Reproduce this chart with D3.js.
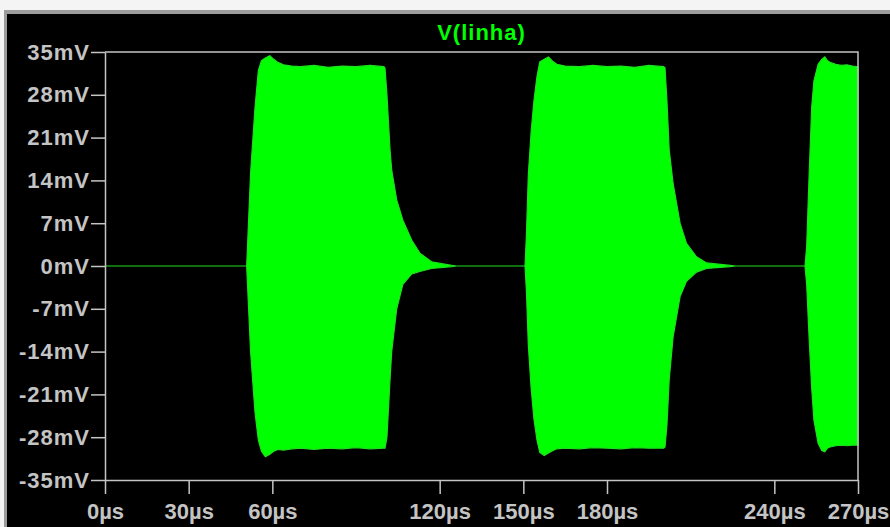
<!DOCTYPE html>
<html>
<head>
<meta charset="utf-8">
<script src="https://cdn.jsdelivr.net/npm/d3@7"></script>
<style>
  html, body { margin: 0; padding: 0; background: #f4f4f4; }
  svg { display: block; }
  .axis text { font-family: "Liberation Sans", Arial, sans-serif; font-weight: bold; font-size: 22px; fill: #c4c4c4; }
  .axis.y text { letter-spacing: 1px; }
  .axis line, .axis path { stroke: #c4c4c4; stroke-width: 1.5px; }
</style>
</head>
<body>
<figure id="plot" style="margin:0"></figure>
<script>
// envelope of V(linha) (time in µs, volts in mV)
const timeUs = [
  0, 50.8, 51.1, 52.2, 53.8, 55.0, 56.1, 57.5, 59.1, 60.5, 62, 64, 67, 70, 75, 80, 85, 90, 95, 100.0,
  100.4, 101.1, 102.2, 102.8, 104.6, 106.8, 110.0, 112.9, 117.1, 124.3, 126,
  150.6, 151.1, 151.8, 152.8, 153.8, 154.9, 155.9, 157.5, 159.0, 160.5, 162, 165, 170, 175, 180, 185, 190, 195, 200.3,
  200.8, 201.5, 202.3, 203.7, 206.2, 208.5, 212.1, 215.7, 224.1, 226,
  251.0, 251.6, 252.5, 253.4, 254.2, 255.7, 257, 258.1, 259, 260, 262, 264, 266, 268, 270
];
const upperMv = [
  0, 0, 3.2, 15.2, 26, 32, 33.6, 34.0, 34.4, 33.8, 33.3, 32.9, 32.7, 32.6, 32.8, 32.5, 32.7, 32.6, 32.8, 32.6,
  32.4, 28, 19, 15.7, 10.8, 7.5, 4.2, 2.1, 0.7, 0.1, 0,
  0, 5, 15, 22, 27, 31, 33.4, 33.8, 34.2, 33.5, 33.0, 32.7, 32.6, 32.8, 32.6, 32.7, 32.5, 32.8, 32.6,
  32.4, 27, 19, 13.5, 7, 3.7, 1.5, 0.5, 0.1, 0,
  0, 3.2, 15.2, 26, 30.3, 33, 33.8, 34.2, 33.6, 33.3, 33.0, 32.8, 32.9, 32.7, 32.6
];
const lowerMv = [
  0, 0, -3, -14, -24, -28.5, -30.3, -31.2, -30.8, -30.3, -30.0, -30.1, -29.9, -29.8, -30.0, -29.8, -29.9, -29.7, -29.9, -29.8,
  -29.8, -28, -18.6, -14, -7, -3, -1.3, -0.9, -0.4, -0.1, 0,
  0, -4, -13, -20, -25, -28.5, -30.5, -31.0, -30.6, -30.2, -29.9, -29.8, -29.9, -29.7, -29.8, -29.9, -29.7, -29.8, -29.8,
  -29.6, -26, -18.6, -11.6, -5, -2.5, -1.0, -0.4, -0.1, 0,
  0, -3, -12, -20, -25.2, -29, -30.2, -30.4, -29.8, -29.6, -29.4, -29.3, -29.4, -29.3, -29.3
];

const xTicks = [0, 30, 60, 120, 150, 180, 240, 270];
const yTicks = [35, 28, 21, 14, 7, 0, -7, -14, -21, -28, -35];
const title = "V(linha)";

const W = 890, H = 527;
const m = { left: 105, right: 32, top: 52, bottom: 47 };

const svg = d3.select("figure#plot").append("svg")
  .attr("width", W).attr("height", H);

// window-ish frame
svg.append("rect").attr("x", 4).attr("y", 10).attr("width", W).attr("height", H).attr("fill", "#9c9c9c");
svg.append("rect").attr("x", 7).attr("y", 14).attr("width", W).attr("height", H).attr("fill", "#000");

const x = d3.scaleLinear().domain([0, 270]).range([m.left, W - m.right]);
const y = d3.scaleLinear().domain([-35, 35]).range([H - m.bottom, m.top]);

const pts = timeUs.map((t, i) => ({ t: t, hi: upperMv[i], lo: lowerMv[i] }));

const area = d3.area()
  .x(d => x(d.t))
  .y0(d => y(d.lo))
  .y1(d => y(d.hi));

svg.append("path")
  .datum(pts)
  .attr("d", area)
  .attr("fill", "#00ff00")
  .attr("stroke", "#1ee01e")
  .attr("stroke-width", 1.2);

// axes
svg.append("g").attr("class", "axis y")
  .attr("transform", "translate(" + m.left + ",0)")
  .call(d3.axisLeft(y).tickValues(yTicks).tickSize(14).tickSizeOuter(0).tickPadding(1)
    .tickFormat(d => d + "mV"));

svg.append("g").attr("class", "axis x")
  .attr("transform", "translate(0," + (H - m.bottom) + ")")
  .call(d3.axisBottom(x).tickValues(xTicks).tickSize(14).tickSizeOuter(0).tickPadding(9)
    .tickFormat(d => d + "µs"));

// top and right frame lines
svg.append("path")
  .attr("d", "M" + x(0) + "," + y(35) + "H" + x(270) + "V" + y(-35))
  .attr("fill", "none")
  .attr("stroke", "#c4c4c4")
  .attr("stroke-width", 1.5);

svg.append("text")
  .attr("x", (x(0) + x(270)) / 2)
  .attr("y", 40)
  .attr("text-anchor", "middle")
  .style("font-family", "'Liberation Sans', Arial, sans-serif")
  .style("font-weight", "bold")
  .style("font-size", "22px")
  .style("letter-spacing", "1px")
  .attr("fill", "#00ff00")
  .text(title);
</script>
</body>
</html>
